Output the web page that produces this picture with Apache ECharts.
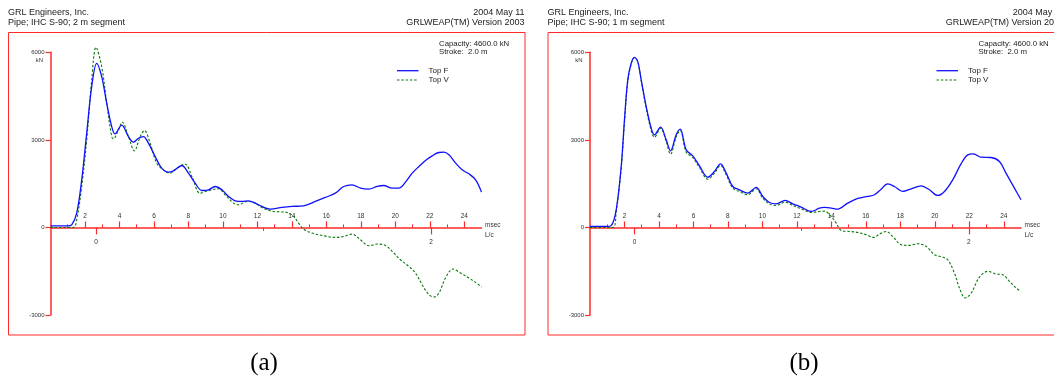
<!DOCTYPE html>
<html><head><meta charset="utf-8">
<script src="https://cdn.jsdelivr.net/npm/echarts@6/dist/echarts.min.js"></script>
<style>html,body{margin:0;padding:0;background:#fff}#c{width:1054px;height:379px}</style>
</head><body><div id="c"></div>
<script>
// ---- data: [msec, kN] ----
const topF_a = [[0,50],[1.0,55],[1.23,90],[1.52,490],[1.81,1630],[2.10,3230],[2.39,4825],[2.68,5624],[2.97,5167],[3.26,4255],[3.55,3456],[3.74,3205],[4.13,3502],[4.52,3114],[4.81,2920],[5.10,3057],[5.39,3114],[5.68,2886],[6.07,2430],[6.45,2030],[6.84,1894],[7.13,1939],[7.62,2122],[8.00,1859],[8.39,1517],[8.78,1266],[9.17,1289],[9.55,1403],[9.94,1289],[10.33,1061],[10.71,913],[11.10,890],[11.49,913],[11.88,833],[12.26,719],[12.75,627],[13.43,684],[14.01,719],[14.68,741],[15.36,890],[15.94,1027],[16.52,1175],[17.01,1403],[17.49,1460],[17.98,1346],[18.46,1312],[18.94,1403],[19.33,1437],[19.82,1346],[20.20,1346],[20.59,1551],[20.98,1859],[21.37,2087],[21.75,2293],[22.14,2453],[22.53,2567],[22.82,2578],[23.11,2487],[23.50,2202],[23.88,1973],[24.27,1836],[24.66,1631],[25.0,1209]];
const topV_a = [[0,0],[1.32,0],[1.52,262],[1.81,1403],[2.10,3000],[2.39,5053],[2.64,6171],[2.97,5510],[3.26,4255],[3.55,3114],[3.65,3034],[3.94,3342],[4.17,3605],[4.52,3114],[4.87,2624],[5.20,3114],[5.45,3319],[5.78,2886],[6.16,2202],[6.55,1973],[6.94,1859],[7.33,2030],[7.81,2167],[8.20,1745],[8.68,1175],[9.17,1266],[9.75,1323],[10.13,1118],[10.62,833],[10.91,776],[11.39,890],[11.78,856],[12.26,684],[12.75,570],[13.23,536],[13.72,513],[14.10,376],[14.39,148],[14.68,-57],[15.17,-194],[15.75,-274],[16.52,-342],[17.01,-308],[17.49,-228],[17.98,-422],[18.46,-627],[18.94,-570],[19.43,-616],[19.82,-821],[20.30,-1107],[20.78,-1335],[21.17,-1563],[21.56,-1962],[21.95,-2304],[22.24,-2384],[22.53,-2247],[22.91,-1734],[23.34,-1426],[23.79,-1563],[24.27,-1734],[24.66,-1882],[25.0,-2042]];
const topF_b = [[0,34],[1.0,34],[1.23,60],[1.52,605],[1.81,2087],[2.00,3684],[2.19,5053],[2.39,5624],[2.58,5829],[2.77,5681],[2.97,5053],[3.26,4141],[3.55,3399],[3.74,3171],[4.09,3434],[4.42,3000],[4.67,2624],[5.00,3171],[5.23,3365],[5.58,2658],[5.96,2453],[6.35,2110],[6.83,1722],[7.22,1916],[7.57,2179],[7.90,1859],[8.28,1403],[8.67,1289],[9.15,1175],[9.64,1369],[10.02,1061],[10.41,856],[10.80,810],[11.32,924],[11.76,810],[12.25,696],[12.83,548],[13.31,662],[13.60,684],[13.99,662],[14.37,627],[14.95,833],[15.53,992],[16.11,1061],[16.50,1118],[16.89,1312],[17.27,1494],[17.66,1403],[18.14,1232],[18.63,1323],[19.21,1426],[19.69,1289],[20.17,1095],[20.56,1232],[21.04,1631],[21.52,2179],[21.91,2487],[22.24,2521],[22.68,2407],[23.26,2396],[23.75,2259],[24.13,1859],[24.62,1346],[25.0,947]];
const topV_b = [[0,0],[1.32,0],[1.52,548],[1.81,2030],[2.00,3627],[2.19,4996],[2.39,5601],[2.58,5818],[2.77,5681],[2.97,5030],[3.26,4084],[3.55,3319],[3.74,3091],[4.09,3399],[4.42,2943],[4.67,2510],[5.00,3114],[5.23,3319],[5.58,2578],[5.96,2396],[6.35,2053],[6.83,1654],[7.22,1859],[7.57,2122],[7.90,1802],[8.28,1346],[8.67,1232],[9.15,1118],[9.64,1323],[10.02,1004],[10.41,798],[10.80,753],[11.32,867],[11.76,753],[12.25,639],[12.83,513],[13.31,548],[13.60,559],[13.99,376],[14.28,148],[14.57,-103],[15.05,-137],[15.53,-171],[16.02,-251],[16.46,-342],[16.79,-228],[17.18,-137],[17.56,-308],[18.05,-593],[18.53,-616],[19.01,-559],[19.50,-650],[19.98,-935],[20.46,-1015],[20.75,-1107],[21.14,-1563],[21.43,-2076],[21.76,-2418],[22.11,-2247],[22.59,-1700],[23.07,-1506],[23.55,-1597],[23.94,-1620],[24.33,-1848],[24.72,-2076],[25.0,-2190]];

const msecMajor = [2,4,6,8,10,12,14,16,18,20,22,24];
const msecMinor = [1,3,5,7,9,11,13,15,17,19,21,23];
const lcMajor = [0,2];
const lcMinor = [1];
const seriesNames = ['Top F','Top V'];
const titleLeft = ['GRL Engineers, Inc.', 'Pipe; IHC S-90; 2 m segment', 'Pipe; IHC S-90; 1 m segment'];
const titleRight = ['2004 May 11', 'GRLWEAP(TM) Version 2003'];
const infoText = ['Capacity: 4600.0 kN', 'Stroke:  2.0 m'];
const captions = ['(a)', '(b)'];

const RED = '#ff2a2a', BLUE = '#1010ff', GREEN = '#0a7a0a';
const FONT = '"Liberation Sans", Arial, sans-serif';

const Y_MIN = -3000, Y_MAX = 6000;
const GRID_TOP = 52.3, GRID_H = 262.7;
// offset that moves a bottom x-axis up to the y = 0 line
const ZERO_OFFSET = -GRID_H * (0 - Y_MIN) / (Y_MAX - Y_MIN);

const panels = [
  {dx: 0, left: 50.5, lcMin: -0.2716, lcMax: 2.3004, F: topF_a, V: topV_a, sub: titleLeft[1], cap: captions[0], capX: 264},
  {dx: 539.5, left: 590, lcMin: -0.2661, lcMax: 2.3125, F: topF_b, V: topV_b, sub: titleLeft[2], cap: captions[1], capX: 804}
];

const grid = [], xAxis = [], yAxis = [], series = [], graphic = [];
panels.forEach((p, i) => {
  grid.push({left: p.left, top: GRID_TOP, width: 431, height: GRID_H, outerBoundsMode: 'none', containLabel: false});
  yAxis.push({
    type: 'value', gridIndex: i, min: Y_MIN, max: Y_MAX, interval: 3000, position: 'left',
    axisLine: {show: true, onZero: false, lineStyle: {color: RED, width: 1.5}},
    axisTick: {show: true, length: 5, lineStyle: {color: RED, width: 1.2}},
    axisLabel: {fontSize: 6, color: '#333', margin: 6, fontFamily: FONT, formatter: v => String(v)},
    splitLine: {show: false}
  });
  const base = {type: 'value', gridIndex: i, position: 'bottom', offset: ZERO_OFFSET, splitLine: {show: false}};
  // msec axis
  xAxis.push(Object.assign({}, base, {
    min: 0, max: 25,
    axisLine: {show: true, onZero: false, lineStyle: {color: RED, width: 1.6}},
    axisTick: {show: true, inside: true, length: 6, customValues: msecMajor, lineStyle: {color: RED, width: 1.2}},
    axisLabel: {show: true, inside: true, margin: 8, fontSize: 6.5, color: '#333', fontFamily: FONT, customValues: msecMajor, formatter: v => String(v)}
  }));
  // minor msec ticks
  xAxis.push(Object.assign({}, base, {
    min: 0, max: 25,
    axisLine: {show: false, onZero: false},
    axisTick: {show: true, inside: true, length: 3, customValues: msecMinor, lineStyle: {color: RED, width: 1}},
    axisLabel: {show: false}
  }));
  // L/c axis
  xAxis.push(Object.assign({}, base, {
    min: p.lcMin, max: p.lcMax,
    axisLine: {show: false, onZero: false},
    axisTick: {show: true, inside: false, length: 7, customValues: lcMajor, lineStyle: {color: RED, width: 1.2}},
    axisLabel: {show: true, margin: 11, fontSize: 6.5, color: '#333', fontFamily: FONT, customValues: lcMajor, formatter: v => String(v)}
  }));
  xAxis.push(Object.assign({}, base, {
    min: p.lcMin, max: p.lcMax,
    axisLine: {show: false, onZero: false},
    axisTick: {show: true, inside: false, length: 3.5, customValues: lcMinor, lineStyle: {color: RED, width: 1}},
    axisLabel: {show: false}
  }));
  series.push({
    name: seriesNames[0], type: 'line', xAxisIndex: i * 4, yAxisIndex: i, data: p.F,
    showSymbol: false, smooth: 0.35, clip: false, z: 3,
    lineStyle: {color: BLUE, width: 1.3}
  });
  series.push({
    name: seriesNames[1], type: 'line', xAxisIndex: i * 4, yAxisIndex: i, data: p.V,
    showSymbol: false, smooth: 0.35, clip: false, z: 2,
    lineStyle: {color: GREEN, width: 1.1, type: [2.5, 1.8]}
  });
  const dx = p.dx;
  graphic.push({type: 'rect', shape: {x: 8.5 + dx, y: 32.5, width: 516.5, height: 302.5}, style: {fill: 'none', stroke: RED, lineWidth: 1}, silent: true});
  graphic.push({type: 'text', x: 8 + dx, y: 12.5, style: {text: titleLeft[0], font: '9px ' + FONT, fill: '#222', verticalAlign: 'middle'}});
  graphic.push({type: 'text', x: 8 + dx, y: 22.5, style: {text: p.sub, font: '9px ' + FONT, fill: '#222', verticalAlign: 'middle'}});
  graphic.push({type: 'text', x: 524.5 + dx, y: 12.5, style: {text: titleRight[0], font: '9px ' + FONT, fill: '#222', align: 'right', verticalAlign: 'middle'}});
  graphic.push({type: 'text', x: 524.5 + dx, y: 22.5, style: {text: titleRight[1], font: '9px ' + FONT, fill: '#222', align: 'right', verticalAlign: 'middle'}});
  graphic.push({type: 'text', x: 439 + dx, y: 44, style: {text: infoText[0], font: '7.8px ' + FONT, fill: '#222', verticalAlign: 'middle'}});
  graphic.push({type: 'text', x: 439 + dx, y: 52, style: {text: infoText[1], font: '7.8px ' + FONT, fill: '#222', verticalAlign: 'middle'}});
  graphic.push({type: 'line', shape: {x1: 397 + dx, y1: 70.7, x2: 418.5 + dx, y2: 70.7}, style: {stroke: BLUE, lineWidth: 1.3}});
  graphic.push({type: 'line', shape: {x1: 397 + dx, y1: 80, x2: 418.5 + dx, y2: 80}, style: {stroke: GREEN, lineWidth: 1.1, lineDash: [2.5, 1.8]}});
  graphic.push({type: 'text', x: 428.5 + dx, y: 71, style: {text: seriesNames[0], font: '8px ' + FONT, fill: '#222', verticalAlign: 'middle'}});
  graphic.push({type: 'text', x: 428.5 + dx, y: 80, style: {text: seriesNames[1], font: '8px ' + FONT, fill: '#222', verticalAlign: 'middle'}});
  graphic.push({type: 'text', x: 43 + dx, y: 60.7, style: {text: 'kN', font: '6px ' + FONT, fill: '#333', align: 'right', verticalAlign: 'middle'}});
  graphic.push({type: 'text', x: 485 + dx, y: 225, style: {text: 'msec', font: '6.5px ' + FONT, fill: '#333', verticalAlign: 'middle'}});
  graphic.push({type: 'text', x: 485 + dx, y: 235.5, style: {text: 'L/c', font: '6.5px ' + FONT, fill: '#333', verticalAlign: 'middle'}});
  graphic.push({type: 'text', x: p.capX, y: 363.5, style: {text: p.cap, font: '25px "Liberation Serif", "Times New Roman", serif', fill: '#000', align: 'center', verticalAlign: 'middle'}});
});

const chart = echarts.init(document.getElementById('c'), null, {renderer: 'canvas'});
chart.setOption({
  backgroundColor: '#fff',
  animation: false,
  grid, xAxis, yAxis, series, graphic
});
</script></body></html>
